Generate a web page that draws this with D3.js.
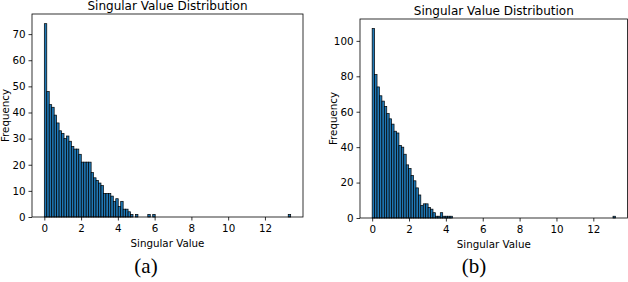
<!DOCTYPE html>
<html>
<head>
<meta charset="utf-8">
<script src="https://cdn.jsdelivr.net/npm/d3@7"></script>
<style>
  body { margin: 0; background: #fff; }
  svg text { font-family: "DejaVu Sans", sans-serif; fill: #000; }
  .caption { font-family: "Liberation Serif", "DejaVu Serif", serif; }
</style>
</head>
<body>
<div id="chart"></div>
<script>
(function() {
    // histogram counts, first bins from 0 upward (panel a)
    const countsA = [74, 48, 43, 42, 39, 36, 33, 32, 30, 31, 29, 27, 26, 26, 24, 21,
                     21, 21, 21, 17, 15, 14, 13, 12, 9, 9, 9, 8, 6, 7, 4, 6,
                     3, 3, 2, 1, 0, 1, 0, 0, 0, 0, 1, 0, 1];
    // isolated bins further out: [bin index, count]
    const outliersA = [[99, 1]];
    const maxValueA = 13.4;

    // panel b
    const countsB = [107, 81, 74, 69, 66, 63, 59, 56, 53, 49, 48, 41, 40, 36, 30, 28,
                     24, 21, 17, 13, 7, 8, 8, 6, 5, 3, 1, 1, 3, 1, 1, 1, 1];
    const outliersB = [[99, 1]];
    const maxValueB = 13.2;

    const binCount = 100;
    const xTicks = [0, 2, 4, 6, 8, 10, 12];
    const yTicksA = [0, 10, 20, 30, 40, 50, 60, 70];
    const yTicksB = [0, 20, 40, 60, 80, 100];

    const width = 628,
          height = 282;

    const svg = d3.select('#chart')
      .append('svg')
      .attr('width', width)
      .attr('height', height);

    function panel(opts) {
        const bw = opts.maxValue / binCount;
        const bins = opts.counts.map((c, i) => ({i, c}))
          .concat(opts.outliers.map(d => ({i: d[0], c: d[1]})))
          .filter(d => d.c > 0);
        const yMax = d3.max(bins, d => d.c) * 1.05;

        const x = d3.scaleLinear()
          .domain([-0.05 * opts.maxValue, opts.maxValue * 1.05])
          .range([opts.left, opts.right]);
        const y = d3.scaleLinear()
          .domain([0, yMax])
          .range([opts.bottom, opts.top]);

        const g = svg.append('g');

        g.selectAll('.bar')
          .data(bins)
          .enter().append('rect')
            .attr('class', 'bar')
            .attr('x', d => x(d.i * bw))
            .attr('width', d => x((d.i + 1) * bw) - x(d.i * bw))
            .attr('y', d => y(d.c))
            .attr('height', d => y(0) - y(d.c))
            .attr('fill', '#1f77b4')
            .attr('stroke', '#000')
            .attr('stroke-width', 0.7);

        g.append('rect')
          .attr('x', opts.left)
          .attr('y', opts.top)
          .attr('width', opts.right - opts.left)
          .attr('height', opts.bottom - opts.top)
          .attr('fill', 'none')
          .attr('stroke', '#000')
          .attr('stroke-width', 0.8);

        const xAxis = g.append('g')
          .attr('transform', `translate(0,${opts.bottom})`)
          .call(d3.axisBottom(x).tickValues(xTicks).tickSize(3.5).tickPadding(4.5).tickSizeOuter(0));
        const yAxis = g.append('g')
          .attr('transform', `translate(${opts.left},0)`)
          .call(d3.axisLeft(y).tickValues(opts.yTicks).tickSize(3.5).tickPadding(3).tickSizeOuter(0));

        [xAxis, yAxis].forEach(a => {
            a.select('.domain').remove();
            a.selectAll('text').style('font-family', '"DejaVu Sans", sans-serif')
              .style('font-size', '10.3px');
            a.selectAll('line').attr('stroke', '#000').attr('stroke-width', 0.8);
        });

        const cx = (opts.left + opts.right) / 2;

        g.append('text')
          .attr('x', cx)
          .attr('y', opts.top - 4.5)
          .attr('text-anchor', 'middle')
          .style('font-size', '12px')
          .text('Singular Value Distribution');

        g.append('text')
          .attr('x', cx)
          .attr('y', opts.bottom + 29.5)
          .attr('text-anchor', 'middle')
          .style('font-size', '10.3px')
          .text('Singular Value');

        g.append('text')
          .attr('transform', `translate(${opts.left - 23},${(opts.top + opts.bottom) / 2}) rotate(-90)`)
          .attr('text-anchor', 'middle')
          .style('font-size', '10.3px')
          .text('Frequency');

        g.append('text')
          .attr('class', 'caption')
          .attr('x', opts.captionX)
          .attr('y', 273)
          .attr('text-anchor', 'middle')
          .style('font-size', '21px')
          .text(opts.caption);
    }

    panel({counts: countsA, outliers: outliersA, maxValue: maxValueA, yTicks: yTicksA,
           left: 32, right: 303, top: 14, bottom: 217, caption: '(a)', captionX: 146});
    panel({counts: countsB, outliers: outliersB, maxValue: maxValueB, yTicks: yTicksB,
           left: 360, right: 627.6, top: 19, bottom: 218, caption: '(b)', captionX: 474});
})();
</script>
</body>
</html>
